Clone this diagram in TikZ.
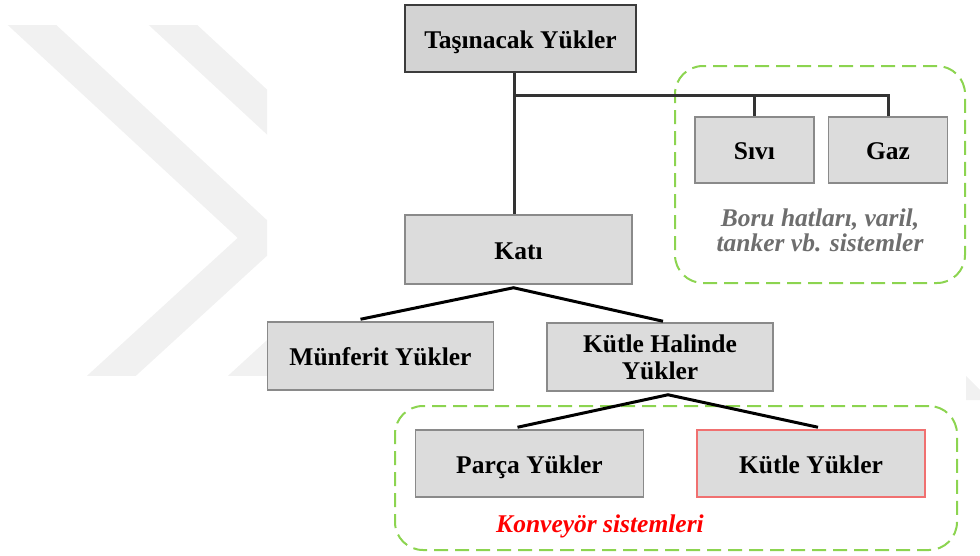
\documentclass[tikz,border=0pt]{standalone}
\usepackage{fontspec}
\setmainfont{Liberation Serif}
\usetikzlibrary{calc}

\definecolor{boxgray}{HTML}{DCDCDC}
\definecolor{boxline}{HTML}{8A8A8A}
\definecolor{rootgray}{HTML}{D3D3D3}
\definecolor{rootline}{HTML}{3C3C3C}
\definecolor{groupgreen}{HTML}{8CD450}
\definecolor{notegray}{HTML}{6E6E6E}
\definecolor{linered}{HTML}{F07070}
\definecolor{markgray}{HTML}{F1F1F1}

\begin{document}
\begin{tikzpicture}[x=1pt, y=-1pt,
  every node/.style={align=center, inner sep=0pt, font=\fontsize{25.5}{27}\selectfont\bfseries},
  itembox/.style={draw=boxline, line width=1.5pt, fill=boxgray, minimum width=226pt, minimum height=68pt},
  oneline/.style={text height=19pt, text depth=0pt},
  rootbox/.style={itembox, oneline, draw=rootline, line width=2pt, fill=rootgray, minimum width=231pt, minimum height=67pt},
  groupbox/.style={draw=groupgreen, line width=2pt, dash pattern=on 14pt off 7pt, rounded corners=28pt},
  note/.style={font=\fontsize{25.5}{25}\selectfont\bfseries\itshape},
  link/.style={line width=3pt, black},
  toplink/.style={line width=3pt, black!80}
]

\useasboundingbox (0,0) rectangle (980,555);

% faint background mark
\begin{scope}
  \clip (0,25) rectangle (267,375);
  \draw[markgray, line width=33pt] (5,0) -- (262,238) -- (85,400);
  \draw[markgray, line width=33pt] (146,0) -- (403,238) -- (226,400);
\end{scope}
\fill[markgray] (966,376) -- (980,390) -- (980,400) -- (966,400) -- cycle;

% groups
\node[groupbox, minimum width=290pt, minimum height=217pt] (pipes) at (820,174.5) {};
\node[groupbox, minimum width=562pt, minimum height=144pt] (conveyor) at (676,478) {};
\node[note, text=notegray] (pipes-note) at (820,230) {Boru hatları, varil,\\tanker vb. sistemler};
\node[note, text=red, oneline] (conveyor-note) at (600,523) {Konveyör sistemleri};

% boxes
\node[rootbox] (cargo) at (520.5,38.5) {Taşınacak Yükler};
\node[itembox, oneline, minimum width=119pt, minimum height=66pt] (liquid) at (754.5,150) {Sıvı};
\node[itembox, oneline, minimum width=119pt, minimum height=66pt] (gas) at (888,150) {Gaz};
\node[itembox, oneline, minimum width=227pt, minimum height=69pt] (solid) at (518.5,249.5) {Katı};
\node[itembox, oneline] (single) at (380.5,356) {Münferit Yükler};
\node[itembox] (bulk) at (660,357) {Kütle Halinde\\Yükler};
\node[itembox, oneline, minimum width=228pt, minimum height=67pt] (piece) at (529.5,463.5) {Parça Yükler};
\node[itembox, oneline, draw=linered, minimum width=228pt, minimum height=67pt] (mass) at (811,463.5) {Kütle Yükler};

% connectors
\coordinate (fork) at (514,95);
\draw[toplink] (fork |- cargo.south) -- (fork |- solid.north);
\draw[toplink] (fork) -| (gas.north);
\draw[toplink] (liquid.north |- fork) -- (liquid.north);

\coordinate (solid-fork) at ($(solid.south)+(-5,3)$);
\draw[link] ($(single.north)+(-20,-2)$) -- (solid-fork) -- ($(bulk.north)+(3,-1)$);

\coordinate (bulk-fork) at ($(bulk.south)+(8,3)$);
\draw[link] ($(piece.north)+(-12,-2)$) -- (bulk-fork) -- ($(mass.north)+(7,-2)$);

\end{tikzpicture}
\end{document}
